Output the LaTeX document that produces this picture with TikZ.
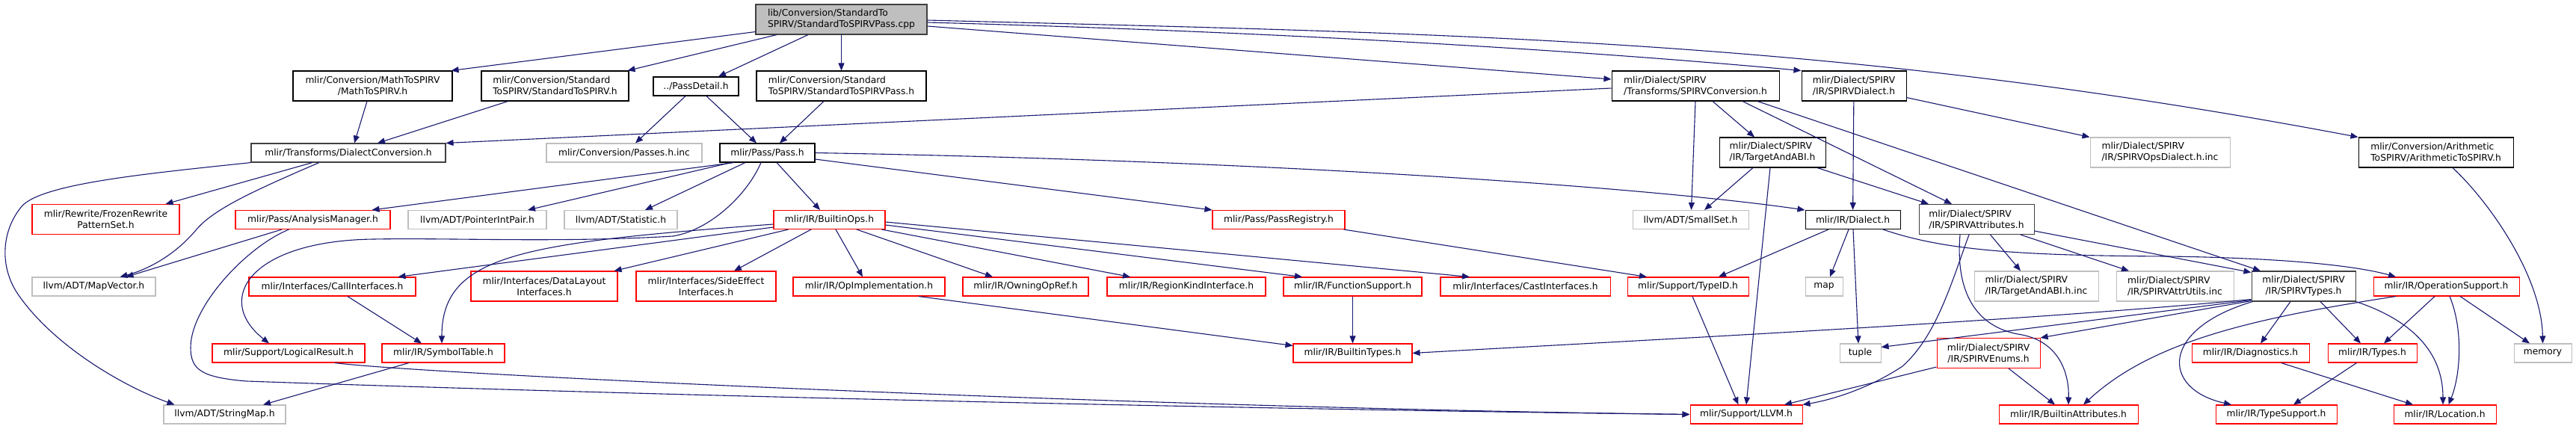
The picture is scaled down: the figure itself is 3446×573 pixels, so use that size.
\documentclass[tikz,border=0pt]{standalone}
\usepackage{fontspec}
\setmainfont{DejaVu Sans}
\usetikzlibrary{arrows.meta}
\definecolor{edgec}{HTML}{191970}
\definecolor{redc}{HTML}{FF0000}
\definecolor{grayc}{HTML}{BFBFBF}
\definecolor{darkc}{HTML}{404040}
\newcommand\dvf{\fontsize{12.3}{15}\selectfont}
\begin{document}
\begin{tikzpicture}[x=1pt,y=-1pt,
  box/.style={rectangle, draw, inner sep=0pt, line width=1.05pt, font=\dvf, text=black, anchor=center},
  nb/.style={box, draw=black},
  nr/.style={box, draw=redc},
  ng/.style={box, draw=grayc},
  nd/.style={box, draw=darkc},
  hone/.style={minimum height=25pt},
  htwo/.style={minimum height=40pt},
  al/.style={align=left}, ac/.style={align=center},
  e/.style={draw=edgec, line width=1.1pt, -{Triangle[length=10pt,width=8pt]}}
]
\fill[white] (0,0) rectangle (3446,573);
\useasboundingbox (0,0) rectangle (3446,573);

% row 0
\node[nd,fill=grayc,htwo,al,minimum width=229pt] (root) at (1125.5,26) {lib/Conversion/StandardTo\\SPIRV/StandardToSPIRVPass.cpp};
% row 1
\node[nb,htwo,ac,minimum width=213pt] (math) at (498.5,115) {mlir/Conversion/MathToSPIRV\\/MathToSPIRV.h};
\node[nb,htwo,al,minimum width=197pt] (stdspirv) at (742.5,115) {mlir/Conversion/Standard\\ToSPIRV/StandardToSPIRV.h};
\node[nb,hone,minimum width=114pt] (passdetail) at (931,115.5) {../PassDetail.h};
\node[nb,htwo,al,minimum width=227pt] (stdpass) at (1125.5,115) {mlir/Conversion/Standard\\ToSPIRV/StandardToSPIRVPass.h};
\node[nb,htwo,al,minimum width=224pt] (spirvconv) at (2268,115) {mlir/Dialect/SPIRV\\/Transforms/SPIRVConversion.h};
\node[nb,htwo,al,minimum width=140pt] (spirvdialect) at (2480,115) {mlir/Dialect/SPIRV\\/IR/SPIRVDialect.h};
% row 2
\node[nd,hone,minimum width=260pt] (dconv) at (466,204.5) {mlir/Transforms/DialectConversion.h};
\node[ng,hone,minimum width=208pt] (passesinc) at (835,204.5) {mlir/Conversion/Passes.h.inc};
\node[nb,hone,minimum width=127pt] (pass) at (1026.5,204.5) {mlir/Pass/Pass.h};
\node[nb,htwo,al,minimum width=142pt] (targetabi) at (2371,204) {mlir/Dialect/SPIRV\\/IR/TargetAndABI.h};
\node[ng,htwo,al,minimum width=187pt] (opsdialectinc) at (2889.5,204) {mlir/Dialect/SPIRV\\/IR/SPIRVOpsDialect.h.inc};
\node[nb,htwo,al,minimum width=207pt] (arith) at (3258.5,204) {mlir/Conversion/Arithmetic\\ToSPIRV/ArithmeticToSPIRV.h};
% row 3
\node[nr,htwo,ac,minimum width=197pt] (frozen) at (141.5,293.5) {mlir/Rewrite/FrozenRewrite\\PatternSet.h};
\node[nr,hone,minimum width=207pt] (analysis) at (418.5,294) {mlir/Pass/AnalysisManager.h};
\node[ng,hone,minimum width=185pt] (pointerint) at (638.5,294) {llvm/ADT/PointerIntPair.h};
\node[ng,hone,minimum width=151pt] (statistic) at (830.5,294) {llvm/ADT/Statistic.h};
\node[nr,hone,minimum width=149pt] (builtinops) at (1109.5,294) {mlir/IR/BuiltinOps.h};
\node[nr,hone,minimum width=177pt] (passreg) at (1710.5,294) {mlir/Pass/PassRegistry.h};
\node[ng,hone,minimum width=155pt] (smallset) at (2261.5,294) {llvm/ADT/SmallSet.h};
\node[nb,hone,minimum width=127pt] (dialect) at (2478.5,294) {mlir/IR/Dialect.h};
\node[nd,htwo,al,minimum width=154pt] (spirvattr) at (2644,293.5) {mlir/Dialect/SPIRV\\/IR/SPIRVAttributes.h};
% row 4
\node[ng,hone,minimum width=165pt] (mapvector) at (125.5,383.5) {llvm/ADT/MapVector.h};
\node[nr,hone,minimum width=223pt] (callif) at (444.5,383.5) {mlir/Interfaces/CallInterfaces.h};
\node[nr,htwo,ac,minimum width=196pt] (datalayout) at (728,383) {mlir/Interfaces/DataLayout\\Interfaces.h};
\node[nr,htwo,ac,minimum width=187pt] (sideeffect) at (944.5,383) {mlir/Interfaces/SideEffect\\Interfaces.h};
\node[nr,hone,minimum width=203pt] (opimpl) at (1162.5,383.5) {mlir/IR/OpImplementation.h};
\node[nr,hone,minimum width=168pt] (owning) at (1372,383.5) {mlir/IR/OwningOpRef.h};
\node[nr,hone,minimum width=212pt] (regionkind) at (1587,383.5) {mlir/IR/RegionKindInterface.h};
\node[nr,hone,minimum width=185pt] (funcsupport) at (1809.5,383.5) {mlir/IR/FunctionSupport.h};
\node[nr,hone,minimum width=227pt] (castif) at (2040.5,383.5) {mlir/Interfaces/CastInterfaces.h};
\node[nr,hone,minimum width=162pt] (typeid) at (2258,383.5) {mlir/Support/TypeID.h};
\node[ng,hone,minimum width=50pt] (map) at (2440,383.5) {map};
\node[ng,htwo,al,minimum width=166pt] (targetabiinc) at (2724,383) {mlir/Dialect/SPIRV\\/IR/TargetAndABI.h.inc};
\node[ng,htwo,al,minimum width=157pt] (attrutils) at (2909.5,383) {mlir/Dialect/SPIRV\\/IR/SPIRVAttrUtils.inc};
\node[nd,htwo,ac,minimum width=139pt] (spirvtypes) at (3081.5,383) {mlir/Dialect/SPIRV\\/IR/SPIRVTypes.h};
\node[nr,hone,minimum width=195pt] (opsupport) at (3272.5,383.5) {mlir/IR/OperationSupport.h};
% row 5
\node[nr,hone,minimum width=204pt] (logical) at (386,472.5) {mlir/Support/LogicalResult.h};
\node[nr,hone,minimum width=164pt] (symtab) at (593,472.5) {mlir/IR/SymbolTable.h};
\node[nr,hone,minimum width=159pt] (builtintypes) at (1809.5,472.5) {mlir/IR/BuiltinTypes.h};
\node[ng,hone,minimum width=55pt] (tuple) at (2488.5,472.5) {tuple};
\node[nr,htwo,ac,minimum width=138pt] (spirvenums) at (2660,472.5) {mlir/Dialect/SPIRV\\/IR/SPIRVEnums.h};
\node[nr,hone,minimum width=157pt] (diagnostics) at (3010.5,472.5) {mlir/IR/Diagnostics.h};
\node[nr,hone,minimum width=119pt] (types) at (3173.5,472.5) {mlir/IR/Types.h};
\node[ng,hone,minimum width=77pt] (memory) at (3401.5,472.5) {memory};
% row 6
\node[ng,hone,minimum width=163pt] (stringmap) at (300.5,554.5) {llvm/ADT/StringMap.h};
\node[nr,hone,minimum width=150pt] (llvm) at (2336,554.5) {mlir/Support/LLVM.h};
\node[nr,hone,minimum width=186pt] (builtinattr) at (2767,554.5) {mlir/IR/BuiltinAttributes.h};
\node[nr,hone,minimum width=162pt] (typesupport) at (3045,554.5) {mlir/IR/TypeSupport.h};
\node[nr,hone,minimum width=137pt] (location) at (3270.5,554.5) {mlir/IR/Location.h};

% ---- edges from root
\draw[e] ([yshift=4pt]root.south west) -- ([xshift=-2pt]math.north east);
\draw[e] ([xshift=-86.5pt]root.south) -- ([xshift=-2pt]stdspirv.north east);
\draw[e] ([xshift=-44.5pt]root.south) -- ([xshift=30pt]passdetail.north);
\draw[e] (root) -- (stdpass);
\draw[e] ([yshift=-9pt]root.east) -- ([yshift=9pt]spirvconv.west);
\draw[e] ([yshift=-4pt]root.east) .. controls (1800,45) and (2200,75) .. (spirvdialect.north west);
\draw[e] ([yshift=-1pt]root.east) .. controls (1940,45) and (2454,51) .. (arith.north west);

% ---- row 1
\draw[e] ([xshift=-7.5pt]math.south) -- ([xshift=8pt]dconv.north);
\draw[e] ([xshift=-63pt]stdspirv.south) -- ([xshift=39pt]dconv.north);
\draw[e] ([xshift=-14pt]passdetail.south) -- ([xshift=15pt]passesinc.north);
\draw[e] ([xshift=14pt]passdetail.south) -- ([xshift=-14.5pt]pass.north);
\draw[e] ([xshift=-23.5pt]stdpass.south) -- ([xshift=16.5pt]pass.north);
\draw[e] ([yshift=-3pt]spirvconv.west) -- (dconv.north east);
\draw[e] (spirvconv.south) -- ([xshift=1pt]smallset.north);
\draw[e] ([xshift=23pt]spirvconv.south) -- ([xshift=-24pt]targetabi.north);
\draw[e] ([xshift=63pt]spirvconv.south) -- ([xshift=-33pt]spirvattr.north);
\draw[e] ([xshift=83pt]spirvconv.south) -- ([xshift=-57.5pt]spirvtypes.north);
\draw[e] (spirvdialect) -- (dialect);
\draw[e] ([yshift=5pt]spirvdialect.south east) -- (opsdialectinc.north west);
\draw[e] ([xshift=22.5pt]arith.south) .. controls (3330,270) and (3400,370) .. (memory.north);

% ---- dialect conversion
\draw[e] (dconv.south west) .. controls (200,232) and (60,245) .. (30,275)
   .. controls (0,310) and (0,360) .. (25,395)
   .. controls (70,460) and (160,515) .. ([xshift=-67pt]stringmap.north);
\draw[e] ([xshift=-39pt]dconv.south) .. controls (340,255) and (285,280) .. (262,308)
   .. controls (235,340) and (200,360) .. ([xshift=35pt]mapvector.north);
\draw[e] ([xshift=-48pt]dconv.south) -- ([xshift=80pt]frozen.north);

% ---- pass
\draw[e] ([xshift=-44.5pt]pass.south) -- ([xshift=79pt]analysis.north);
\draw[e] ([xshift=-48.5pt]pass.south) -- ([xshift=67.5pt]pointerint.north);
\draw[e] ([xshift=-29.5pt]pass.south) -- ([xshift=32.5pt]statistic.north);
\draw[e] ([xshift=12.5pt]pass.south) -- ([xshift=-12.5pt]builtinops.north);
\draw[e] ([xshift=-8.5pt]pass.south) .. controls (1000,260) and (950,308) .. (900,316)
   .. controls (750,325) and (600,318) .. (500,320)
   .. controls (335,322) and (285,400) .. ([xshift=-26pt]logical.north);
\draw[e] ([yshift=-8.5pt]pass.east) -- (passreg.north west);
\draw[e] (pass.east) .. controls (1700,215) and (2200,250) .. (dialect.north west);

% ---- target and ABI
\draw[e] ([xshift=-26pt]targetabi.south) -- ([xshift=18.5pt]smallset.north);
\draw[e] ([xshift=-3pt]targetabi.south) -- (llvm.north);
\draw[e] ([xshift=60pt]targetabi.south) -- ([xshift=-64pt]spirvattr.north);

% ---- analysis manager
\draw[e] ([xshift=-41.5pt]analysis.south) -- ([xshift=43pt]mapvector.north);
\draw[e] ([xshift=-32pt]analysis.south) .. controls (330,330) and (255,410) .. (255,465)
   .. controls (255,495) and (270,505) .. (330,510)
   .. controls (900,530) and (1700,548) .. (llvm.west);

% ---- logical result
\draw[e] ([xshift=62pt]logical.south) .. controls (560,500) and (1500,545) .. (llvm.west);

% ---- builtin ops
\draw[e] ([yshift=-10pt]builtinops.west) -- ([xshift=88pt]callif.north);
\draw[e] ([yshift=-6pt]builtinops.west) .. controls (700,325) and (591,340) .. ([xshift=-2pt]symtab.north);
\draw[e] ([xshift=-55pt]builtinops.south) -- ([xshift=-5pt]datalayout.north east);
\draw[e] ([xshift=-24.5pt]builtinops.south) -- ([xshift=37.5pt]sideeffect.north);
\draw[e] ([xshift=8.5pt]builtinops.south) -- ([xshift=-8.5pt]opimpl.north);
\draw[e] ([xshift=36.5pt]builtinops.south) -- ([xshift=-44pt]owning.north);
\draw[e] ([xshift=-5pt]builtinops.south east) -- ([xshift=-75pt]regionkind.north);
\draw[e] ([yshift=-7pt]builtinops.east) -- ([xshift=-67.5pt]funcsupport.north);
\draw[e] ([yshift=-3pt]builtinops.east) -- ([xshift=-74.5pt]castif.north);

% ---- pass registry
\draw[e] ([xshift=-2pt]passreg.south east) -- ([xshift=-55pt]typeid.north);

% ---- dialect
\draw[e] ([xshift=-32.5pt]dialect.south) -- ([xshift=41pt]typeid.north);
\draw[e] ([xshift=-5.5pt]dialect.south) -- ([xshift=8pt]map.north);
\draw[e] ([xshift=0.5pt]dialect.south) -- ([xshift=-2.5pt]tuple.north);
\draw[e] ([xshift=40.5pt]dialect.south) .. controls (2600,335) and (2700,342) .. (2900,343)
   .. controls (3050,345) and (3150,355) .. ([xshift=-67.5pt]opsupport.north);

% ---- SPIRV attributes
\draw[e] ([xshift=-10pt]spirvattr.south) .. controls (2610,380) and (2590,450) .. (2545,490)
   .. controls (2500,520) and (2450,535) .. (llvm.north east);
\draw[e] ([xshift=-22pt]spirvattr.south) .. controls (2615,400) and (2650,440) .. (2705,448)
   .. controls (2755,458) and (2768,500) .. (builtinattr.north);
\draw[e] ([xshift=18.5pt]spirvattr.south) -- ([xshift=-21pt]targetabiinc.north);
\draw[e] ([xshift=59pt]spirvattr.south) -- ([xshift=-61.5pt]attrutils.north);
\draw[e] ([yshift=5pt]spirvattr.south east) -- ([yshift=-2pt]spirvtypes.north west);

% ---- misc row 4
\draw[e] ([xshift=20.5pt]callif.south) -- ([xshift=-29pt]symtab.north);
\draw[e] ([xshift=66.5pt]opimpl.south) -- ([yshift=-3pt]builtintypes.north west);
\draw[e] (funcsupport) -- (builtintypes);
\draw[e] ([xshift=6pt]typeid.south) -- ([xshift=-10.5pt]llvm.north);

% ---- SPIRV types
\draw[e] ([yshift=3pt]spirvtypes.south west) .. controls (2700,430) and (2200,455) .. (builtintypes.east);
\draw[e] ([yshift=2pt]spirvtypes.south west) -- ([yshift=8pt]tuple.east);
\draw[e] ([yshift=1pt]spirvtypes.south west) -- (spirvenums.north east);
\draw[e] ([xshift=2pt]spirvtypes.south west) .. controls (2890,440) and (2890,520) .. ([xshift=-60pt]typesupport.north);
\draw[e] ([xshift=-17.5pt]spirvtypes.south) -- ([xshift=13.5pt]diagnostics.north);
\draw[e] ([xshift=22.5pt]spirvtypes.south) -- ([xshift=-15.5pt]types.north);
\draw[e] (spirvtypes.south east) .. controls (3225,428) and (3268,470) .. ([xshift=-2.5pt]location.north);

% ---- operation support
\draw[e] ([xshift=-67.5pt]opsupport.south) .. controls (3020,425) and (2880,455) .. ([xshift=20pt]builtinattr.north);
\draw[e] ([xshift=-15.5pt]opsupport.south) -- ([xshift=15.5pt]types.north);
\draw[e] ([xshift=4.5pt]opsupport.south) .. controls (3295,440) and (3292,500) .. ([xshift=5pt]location.north);
\draw[e] ([xshift=18.5pt]opsupport.south) -- ([xshift=-17.5pt]memory.north);

% ---- row 5
\draw[e] ([xshift=-46pt]symtab.south) -- ([xshift=51.5pt]stringmap.north);
\draw[e] ([yshift=2pt]spirvenums.south west) -- ([xshift=51pt]llvm.north);
\draw[e] ([xshift=27pt]spirvenums.south) -- ([xshift=-18pt]builtinattr.north);
\draw[e] ([xshift=41pt]diagnostics.south) -- ([xshift=-42.5pt]location.north);
\draw[e] ([xshift=-21pt]types.south) -- ([xshift=23pt]typesupport.north);
\end{tikzpicture}
\end{document}
